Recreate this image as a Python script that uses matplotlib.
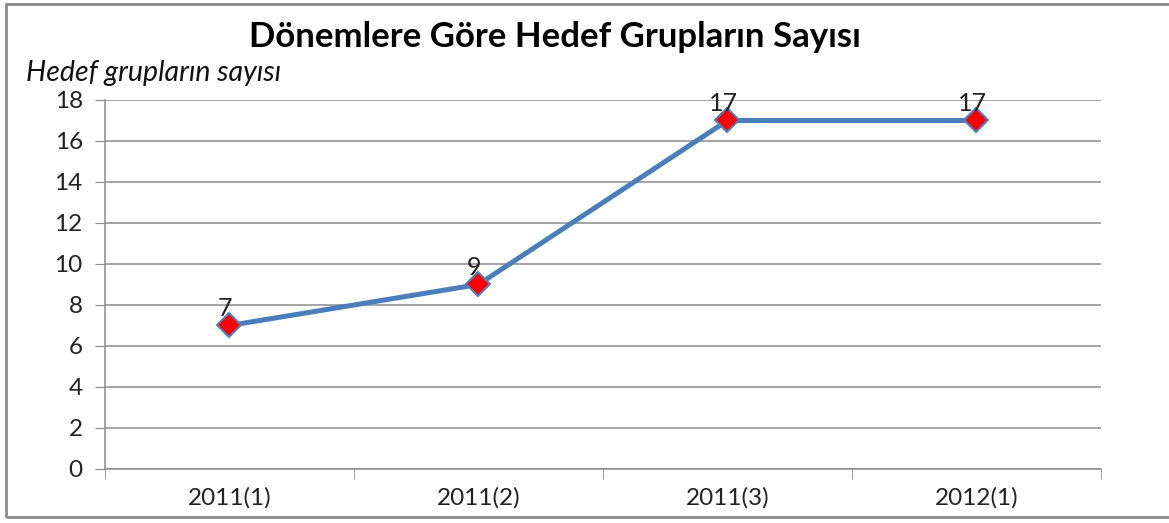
import matplotlib.pyplot as plt
from matplotlib.patches import Rectangle

donemler = ["2011(1)", "2011(2)", "2011(3)", "2012(1)"]
grup_sayisi = [7, 9, 17, 17]
y_ticks = list(range(0, 19, 2))

plt.rcParams['font.family'] = ['Lato', 'DejaVu Sans']

fig = plt.figure(figsize=(11.69, 5.23), dpi=100)
ax = fig.add_axes([0.0898, 0.1033, 0.852, 0.7055])

# outer frame of the chart
fig.patches.append(Rectangle((0.005, 0.012), 1.2, 0.98, transform=fig.transFigure,
                             fill=False, edgecolor='#8a8a8a', linewidth=2))

x = list(range(len(donemler)))
ax.plot(x, grup_sayisi, color='#4a7ebb', linewidth=3.6, marker='D', markersize=12,
        markerfacecolor='red', markeredgecolor='#4f81bd', markeredgewidth=1.5, zorder=3)
for xi, v in zip(x, grup_sayisi):
    ax.annotate(str(v), (xi, v), textcoords='offset points', xytext=(-3, 4),
                ha='center', va='bottom', fontsize=18, color='#222222')

ax.set_xlim(-0.5, len(donemler) - 0.5)
ax.set_ylim(0, 18)
ax.set_yticks(y_ticks)
ax.set_xticks(x)
ax.set_xticklabels(donemler)
ax.set_xticks([i - 0.5 for i in range(len(donemler) + 1)], minor=True)
ax.tick_params(axis='x', which='major', length=0, pad=13, labelsize=17.5, colors='#222222')
ax.tick_params(axis='x', which='minor', length=7, direction='out', color='#8a8a8a')
ax.tick_params(axis='y', length=7, direction='out', color='#8a8a8a', labelsize=17.5,
               pad=9, labelcolor='#222222')
ax.grid(axis='y', color='#8c8c8c', linewidth=1.1)
ax.set_axisbelow(True)
for s in ['top', 'right']:
    ax.spines[s].set_visible(False)
for s in ['left', 'bottom']:
    ax.spines[s].set_color('#8a8a8a')
    ax.spines[s].set_linewidth(1.1)

fig.text(0.475, 0.929, "Dönemlere Göre Hedef Grupların Sayısı", ha='center', va='center',
         fontsize=25, fontweight='bold')
fig.text(0.022, 0.86, "Hedef grupların sayısı", ha='left', va='center',
         fontsize=20.5, style='italic', color='#111111')

fig.savefig("out.png", dpi=100)
